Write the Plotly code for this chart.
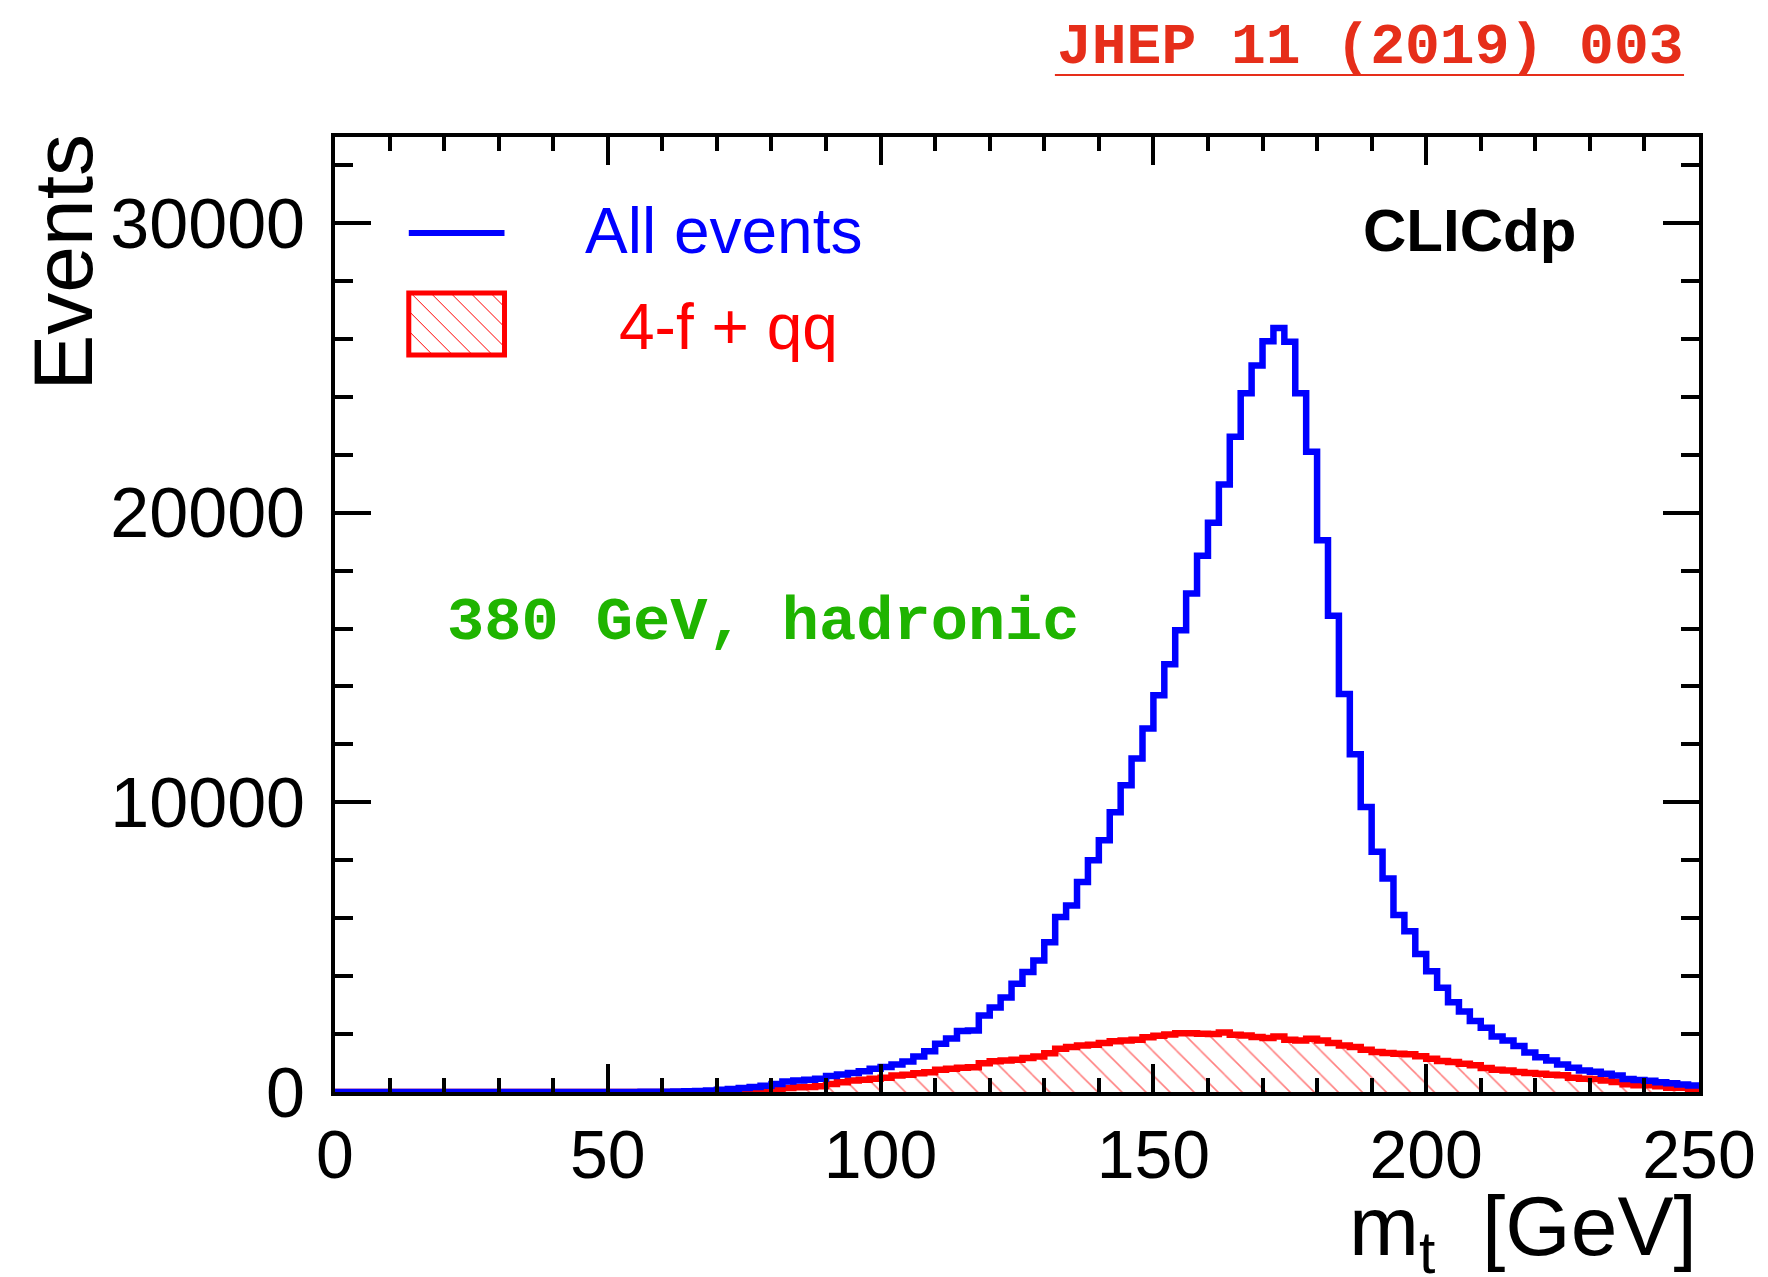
import numpy as np
import plotly.graph_objects as go

# ---------------- data (2 GeV bins from 0 to 250 GeV) ----------------
bin_edges = list(range(0, 252, 2))

all_events = [
    0, 0, 0, 0, 0, 0, 0, 0, 0, 0,
    0, 0, 0, 0, 0, 0, 0, 0, 0, 0,
    0, 0, 0, 0, 0, 2, 3, 4, 6, 8,
    12, 16, 24, 38, 55, 78, 105, 135, 170, 215,
    280, 360, 395, 420, 455, 555, 605, 660, 720, 800,
    860, 950, 1050, 1225, 1410, 1670, 1850, 2110, 2120, 2640,
    2920, 3260, 3740, 4140, 4540, 5170, 6040, 6440, 7250, 8000,
    8690, 9660, 10590, 11510, 12550, 13700, 14770, 15940, 17210, 18510,
    19650, 20970, 22620, 24120, 25080, 25920, 26380, 25900, 24120, 22100,
    19050, 16440, 13740, 11660, 9840, 8290, 7370, 6110, 5550, 4760,
    4170, 3600, 3100, 2780, 2450, 2220, 1920, 1780, 1590, 1360,
    1200, 1090, 950, 835, 740, 695, 627, 570, 450, 415,
    392, 335, 305, 260, 225,
]

bkg_4f_qq = [
    0, 0, 0, 0, 0, 0, 0, 0, 0, 0,
    0, 0, 0, 0, 0, 0, 0, 0, 0, 0,
    0, 0, 0, 0, 0, 0, 0, 0, 0, 0,
    0, 0, 2, 4, 6, 10, 22, 38, 55, 70,
    85, 140, 165, 170, 200, 280, 340, 400, 420, 455,
    490, 570, 595, 650, 685, 765, 800, 835, 855, 995,
    1065, 1090, 1110, 1170, 1225, 1340, 1490, 1550, 1605, 1630,
    1690, 1755, 1780, 1800, 1890, 1940, 1985, 2030, 2030, 2010,
    2000, 2055, 1975, 1950, 1895, 1860, 1915, 1800, 1780, 1835,
    1780, 1690, 1605, 1550, 1460, 1380, 1345, 1320, 1300, 1230,
    1150, 1070, 1035, 975, 920, 830, 770, 745, 690, 655,
    630, 595, 575, 495, 460, 445, 400, 345, 265, 230,
    230, 195, 150, 150, 115,
]

x_ticks = [0, 50, 100, 150, 200, 250]
y_ticks = [0, 10000, 20000, 30000]

# ---------------- figure ----------------
W, H = 1768, 1277
L, R, T, B = 335, 65, 137, 185
PW, PH = W - L - R, H - T - B

def px(xp):
    return (xp - L) / PW

def py(yp):
    return (H - B - yp) / PH

BLUE = "#0000ff"
RED = "#ff0000"

fig = go.Figure()

fig.add_trace(go.Scatter(
    x=bin_edges, y=bkg_4f_qq + [bkg_4f_qq[-1]],
    mode="lines", line=dict(color=RED, width=6.5, shape="hv"),
    fill="tozeroy", fillcolor="rgba(255,255,255,0)",
    fillpattern=dict(shape="\\", fgcolor=RED, bgcolor="rgba(255,255,255,0)",
                     size=17, solidity=0.09),
    showlegend=False, hoverinfo="skip",
))
fig.add_trace(go.Scatter(
    x=bin_edges, y=all_events + [all_events[-1]],
    mode="lines", line=dict(color=BLUE, width=6.5, shape="hv"),
    showlegend=False, hoverinfo="skip",
))

SANS = "Liberation Sans, Arial, sans-serif"
MONO = "Liberation Mono, Courier New, monospace"

fig.update_xaxes(
    range=[0, 250], showline=True, linewidth=4, linecolor="black",
    mirror="allticks", ticks="inside", ticklen=28, tickwidth=3.5,
    tickcolor="black", tickvals=x_ticks, ticktext=[str(v) for v in x_ticks],
    minor=dict(ticks="inside", ticklen=14, tickwidth=3.5, dtick=10,
               tickcolor="black", showgrid=False),
    showgrid=False, zeroline=False,
    tickfont=dict(family=SANS, size=68, color="black"), ticklabelstandoff=0,
)
fig.update_yaxes(
    range=[0, 32970], showline=True, linewidth=4, linecolor="black",
    mirror="allticks", ticks="inside", ticklen=36, tickwidth=3.5,
    tickcolor="black", tickvals=y_ticks, ticktext=[str(v) for v in y_ticks],
    minor=dict(ticks="inside", ticklen=18, tickwidth=3.5, dtick=2000,
               tickcolor="black", showgrid=False),
    showgrid=False, zeroline=False,
    tickfont=dict(family=SANS, size=70, color="black"), ticklabelstandoff=12,
)

shapes = []
annotations = []

# legend: blue line
shapes.append(dict(type="line", xref="paper", yref="paper",
                   x0=px(409), x1=px(505), y0=py(233), y1=py(233),
                   line=dict(color=BLUE, width=6)))
# legend: hatched red box
bx0, bx1, by0, by1 = 409, 505, 293, 355
step = 20
c = bx0 - by1 + 4
while c < bx1 - by0:
    pts = []
    for xv in (bx0, bx1):
        yv = xv - c
        if by0 <= yv <= by1:
            pts.append((xv, yv))
    for yv in (by0, by1):
        xv = yv + c
        if bx0 <= xv <= bx1:
            pts.append((xv, yv))
    if len(pts) >= 2:
        pts.sort()
        (xa, ya), (xb, yb) = pts[0], pts[-1]
        shapes.append(dict(type="line", xref="paper", yref="paper",
                           x0=px(xa), y0=py(ya), x1=px(xb), y1=py(yb),
                           line=dict(color=RED, width=1)))
    c += step
shapes.append(dict(type="rect", xref="paper", yref="paper",
                   x0=px(bx0), x1=px(bx1), y0=py(by1), y1=py(by0),
                   line=dict(color=RED, width=5)))

# JHEP underline
shapes.append(dict(type="line", xref="paper", yref="paper",
                   x0=px(1057), x1=px(1688), y0=py(75), y1=py(75),
                   line=dict(color="#e62e1a", width=2)))

def ann(text, xp, yp, size, color, family, xanchor="left", yanchor="middle", angle=0):
    annotations.append(dict(text=text, x=px(xp), y=py(yp), xref="paper", yref="paper",
                            xanchor=xanchor, yanchor=yanchor, showarrow=False,
                            textangle=angle,
                            font=dict(size=size, color=color, family=family)))

ann("All events", 584, 231, 64, BLUE, SANS)
ann("4-f + qq", 618, 327, 64, RED, SANS)
ann("<b>CLICdp</b>", 1364, 231, 60, "black", SANS)
ann("<b>380 GeV, hadronic</b>", 445, 622, 62, "#1fb400", MONO)
ann("<b>JHEP 11 (2019) 003</b>", 1057, 47, 58, "#e62e1a", MONO)
ann("Events", 62, 262, 84, "black", SANS, xanchor="center", yanchor="middle", angle=-90)
ann("m<sub>t</sub>&nbsp;&nbsp;[GeV]", 1703, 1232, 84, "black", SANS,
    xanchor="right", yanchor="middle")

fig.update_layout(
    width=W, height=H,
    margin=dict(l=L, r=R, t=T, b=B, pad=0),
    paper_bgcolor="white", plot_bgcolor="white",
    showlegend=False,
    shapes=shapes, annotations=annotations,
)

fig.write_html("out.html")
